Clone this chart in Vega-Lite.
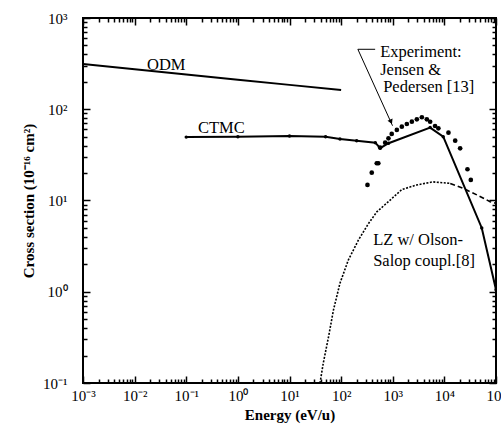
{
  "$schema": "https://vega.github.io/schema/vega-lite/v6.json",
  "width": 413,
  "height": 365,
  "autosize": "none",
  "padding": {"left": 83, "top": 18, "right": 5, "bottom": 50},
  "background": "white",
  "config": {
    "view": {"stroke": "black", "strokeWidth": 2},
    "axis": {
      "domain": false,
      "grid": false,
      "tickColor": "black",
      "tickWidth": 1.5,
      "labelFont": "Liberation Serif",
      "labelFontSize": 15,
      "labelColor": "black",
      "titleFont": "Liberation Serif",
      "titleFontSize": 15,
      "titleFontWeight": "bold",
      "titleColor": "black"
    },
    "text": {"font": "Liberation Serif", "fontSize": 16.5, "color": "black"}
  },
  "datasets": {
    "odm": [
      {"energy": 0.001, "sigma": 313},
      {"energy": 0.01, "sigma": 275},
      {"energy": 0.1, "sigma": 241},
      {"energy": 1, "sigma": 211},
      {"energy": 10, "sigma": 185},
      {"energy": 100, "sigma": 163}
    ],
    "ctmc": [
      {"energy": 0.1, "sigma": 49.5},
      {"energy": 1, "sigma": 50},
      {"energy": 10, "sigma": 51},
      {"energy": 50, "sigma": 50},
      {"energy": 95, "sigma": 47.2},
      {"energy": 200, "sigma": 45.2},
      {"energy": 460, "sigma": 43},
      {"energy": 570, "sigma": 37.5},
      {"energy": 830, "sigma": 42.4},
      {"energy": 5300, "sigma": 63},
      {"energy": 9500, "sigma": 50},
      {"energy": 53000, "sigma": 5},
      {"energy": 100000, "sigma": 1.05}
    ],
    "experiment": [
      {"energy": 324, "sigma": 14.8},
      {"energy": 392, "sigma": 20.2},
      {"energy": 490, "sigma": 25.6},
      {"energy": 525, "sigma": 25.6},
      {"energy": 570, "sigma": 38},
      {"energy": 713, "sigma": 43},
      {"energy": 826, "sigma": 48},
      {"energy": 955, "sigma": 53.6},
      {"energy": 1200, "sigma": 59.3},
      {"energy": 1500, "sigma": 64.4},
      {"energy": 1875, "sigma": 68.9},
      {"energy": 2344, "sigma": 73.1},
      {"energy": 2930, "sigma": 77.6},
      {"energy": 3664, "sigma": 81.7},
      {"energy": 4571, "sigma": 77.6},
      {"energy": 5300, "sigma": 73},
      {"energy": 6600, "sigma": 65.5},
      {"energy": 7650, "sigma": 61.8},
      {"energy": 12000, "sigma": 55.4},
      {"energy": 16200, "sigma": 45.2},
      {"energy": 20200, "sigma": 37.3},
      {"energy": 28000, "sigma": 22},
      {"energy": 32500, "sigma": 16.8}
    ],
    "lzRise": [
      {"energy": 39, "sigma": 0.1},
      {"energy": 45, "sigma": 0.164},
      {"energy": 57, "sigma": 0.32},
      {"energy": 71, "sigma": 0.63},
      {"energy": 95, "sigma": 1.24},
      {"energy": 138, "sigma": 2.23},
      {"energy": 217, "sigma": 3.7},
      {"energy": 340, "sigma": 5.6},
      {"energy": 490, "sigma": 7.5},
      {"energy": 890, "sigma": 10.1},
      {"energy": 1500, "sigma": 13.2},
      {"energy": 2900, "sigma": 14.8},
      {"energy": 6000, "sigma": 16.0},
      {"energy": 13000, "sigma": 15.4}
    ],
    "lzFall": [
      {"energy": 13000, "sigma": 15.4},
      {"energy": 23000, "sigma": 13.6},
      {"energy": 43000, "sigma": 11.5},
      {"energy": 77000, "sigma": 9.7},
      {"energy": 100000, "sigma": 9.3}
    ],
    "labels": [
      {"energy": 0.0174, "sigma": 269, "label": "ODM"},
      {"energy": 0.169, "sigma": 54.9, "label": "CTMC"},
      {"energy": 570, "sigma": 374, "label": "Experiment:"},
      {"energy": 570, "sigma": 240, "label": "Jensen &"},
      {"energy": 652, "sigma": 154.6, "label": "Pedersen [13]"},
      {"energy": 417, "sigma": 3.25, "label": "LZ w/ Olson-"},
      {"energy": 417, "sigma": 1.91, "label": "Salop coupl.[8]"}
    ],
    "leader": [
      {"energy": 211, "sigma": 454, "energy2": 456, "sigma2": 454},
      {"energy": 211, "sigma": 454, "energy2": 990, "sigma2": 66}
    ],
    "arrowhead": [
      {"energy": 925, "sigma": 73}
    ]
  },
  "layer": [
    {
      "data": {"name": "odm"},
      "mark": {"type": "line", "color": "black", "strokeWidth": 2, "clip": true},
      "encoding": {
        "x": {
          "field": "energy", "type": "quantitative",
          "scale": {"type": "log", "domain": [0.001, 100000], "nice": false},
          "axis": {
            "orient": "bottom",
            "title": "Energy (eV/u)",
            "values": [0.001, 0.01, 0.1, 1, 10, 100, 1000, 10000, 100000],
            "tickSize": -7,
            "labelPadding": 12,
            "labelFlush": false,
            "labelOverlap": false,
            "titlePadding": 4,
            "labelExpr": "['10⁻³','10⁻²','10⁻¹','10⁰','10¹','10²','10³','10⁴','10⁵'][round(log(datum.value)/LN10)+3]"
          }
        },
        "y": {
          "field": "sigma", "type": "quantitative",
          "scale": {"type": "log", "domain": [0.1, 1000], "nice": false},
          "axis": {
            "orient": "left",
            "title": "Cross section (10⁻¹⁶ cm²)",
            "values": [0.1, 1, 10, 100, 1000],
            "tickSize": -7,
            "labelPadding": 23,
            "labelFlush": false,
            "labelOverlap": false,
            "titlePadding": 6,
            "labelExpr": "['10⁻¹','10⁰','10¹','10²','10³'][round(log(datum.value)/LN10)+1]"
          }
        }
      }
    },
    {
      "data": {"name": "ctmc"},
      "mark": {"type": "line", "color": "black", "strokeWidth": 2, "clip": true},
      "encoding": {
        "x": {
          "field": "energy", "type": "quantitative",
          "scale": {"type": "log", "domain": [0.001, 100000], "nice": false},
          "axis": {
            "orient": "bottom", "title": null, "labels": false, "tickSize": -4,
            "values": [0.002,0.003,0.004,0.005,0.006,0.007,0.008,0.009,0.02,0.03,0.04,0.05,0.06,0.07,0.08,0.09,0.2,0.3,0.4,0.5,0.6,0.7,0.8,0.9,2,3,4,5,6,7,8,9,20,30,40,50,60,70,80,90,200,300,400,500,600,700,800,900,2000,3000,4000,5000,6000,7000,8000,9000,20000,30000,40000,50000,60000,70000,80000,90000]
          }
        },
        "y": {
          "field": "sigma", "type": "quantitative",
          "scale": {"type": "log", "domain": [0.1, 1000], "nice": false},
          "axis": {
            "orient": "left", "title": null, "labels": false, "tickSize": -4,
            "values": [0.2,0.3,0.4,0.5,0.6,0.7,0.8,0.9,2,3,4,5,6,7,8,9,20,30,40,50,60,70,80,90,200,300,400,500,600,700,800,900]
          }
        }
      }
    },
    {
      "data": {"name": "ctmc"},
      "mark": {"type": "point", "filled": true, "color": "black", "size": 12, "opacity": 1, "clip": true},
      "encoding": {
        "x": {
          "field": "energy", "type": "quantitative",
          "scale": {"type": "log", "domain": [0.001, 100000], "nice": false},
          "axis": {
            "orient": "top", "title": null, "labels": false, "tickSize": -7,
            "values": [0.001, 0.01, 0.1, 1, 10, 100, 1000, 10000, 100000]
          }
        },
        "y": {
          "field": "sigma", "type": "quantitative",
          "scale": {"type": "log", "domain": [0.1, 1000], "nice": false},
          "axis": {
            "orient": "right", "title": null, "labels": false, "tickSize": -7,
            "values": [0.1, 1, 10, 100, 1000]
          }
        }
      }
    },
    {
      "data": {"name": "experiment"},
      "mark": {"type": "point", "filled": true, "color": "black", "size": 22, "opacity": 1, "clip": true},
      "encoding": {
        "x": {
          "field": "energy", "type": "quantitative",
          "scale": {"type": "log", "domain": [0.001, 100000], "nice": false},
          "axis": {
            "orient": "top", "title": null, "labels": false, "tickSize": -4,
            "values": [0.002,0.003,0.004,0.005,0.006,0.007,0.008,0.009,0.02,0.03,0.04,0.05,0.06,0.07,0.08,0.09,0.2,0.3,0.4,0.5,0.6,0.7,0.8,0.9,2,3,4,5,6,7,8,9,20,30,40,50,60,70,80,90,200,300,400,500,600,700,800,900,2000,3000,4000,5000,6000,7000,8000,9000,20000,30000,40000,50000,60000,70000,80000,90000]
          }
        },
        "y": {
          "field": "sigma", "type": "quantitative",
          "scale": {"type": "log", "domain": [0.1, 1000], "nice": false},
          "axis": {
            "orient": "right", "title": null, "labels": false, "tickSize": -4,
            "values": [0.2,0.3,0.4,0.5,0.6,0.7,0.8,0.9,2,3,4,5,6,7,8,9,20,30,40,50,60,70,80,90,200,300,400,500,600,700,800,900]
          }
        }
      }
    },
    {
      "data": {"name": "lzRise"},
      "mark": {"type": "line", "color": "black", "strokeWidth": 1.6, "strokeDash": [2, 1.5], "clip": true},
      "encoding": {
        "x": {"field": "energy", "type": "quantitative", "scale": {"type": "log", "domain": [0.001, 100000], "nice": false}, "axis": null},
        "y": {"field": "sigma", "type": "quantitative", "scale": {"type": "log", "domain": [0.1, 1000], "nice": false}, "axis": null}
      }
    },
    {
      "data": {"name": "lzFall"},
      "mark": {"type": "line", "color": "black", "strokeWidth": 1.6, "strokeDash": [5, 3], "clip": true},
      "encoding": {
        "x": {"field": "energy", "type": "quantitative", "scale": {"type": "log", "domain": [0.001, 100000], "nice": false}, "axis": null},
        "y": {"field": "sigma", "type": "quantitative", "scale": {"type": "log", "domain": [0.1, 1000], "nice": false}, "axis": null}
      }
    },
    {
      "data": {"name": "leader"},
      "mark": {"type": "rule", "color": "black", "strokeWidth": 1},
      "encoding": {
        "x": {"field": "energy", "type": "quantitative", "scale": {"type": "log", "domain": [0.001, 100000], "nice": false}, "axis": null},
        "y": {"field": "sigma", "type": "quantitative", "scale": {"type": "log", "domain": [0.1, 1000], "nice": false}, "axis": null},
        "x2": {"field": "energy2"},
        "y2": {"field": "sigma2"}
      }
    },
    {
      "data": {"name": "arrowhead"},
      "mark": {"type": "point", "shape": "triangle-down", "filled": true, "color": "black", "size": 30, "angle": 336, "opacity": 1},
      "encoding": {
        "x": {"field": "energy", "type": "quantitative", "scale": {"type": "log", "domain": [0.001, 100000], "nice": false}, "axis": null},
        "y": {"field": "sigma", "type": "quantitative", "scale": {"type": "log", "domain": [0.1, 1000], "nice": false}, "axis": null}
      }
    },
    {
      "data": {"name": "labels"},
      "mark": {"type": "text", "align": "left", "baseline": "alphabetic"},
      "encoding": {
        "x": {"field": "energy", "type": "quantitative", "scale": {"type": "log", "domain": [0.001, 100000], "nice": false}, "axis": null},
        "y": {"field": "sigma", "type": "quantitative", "scale": {"type": "log", "domain": [0.1, 1000], "nice": false}, "axis": null},
        "text": {"field": "label"}
      }
    }
  ],
  "resolve": {"axis": {"x": "independent", "y": "independent"}}
}
